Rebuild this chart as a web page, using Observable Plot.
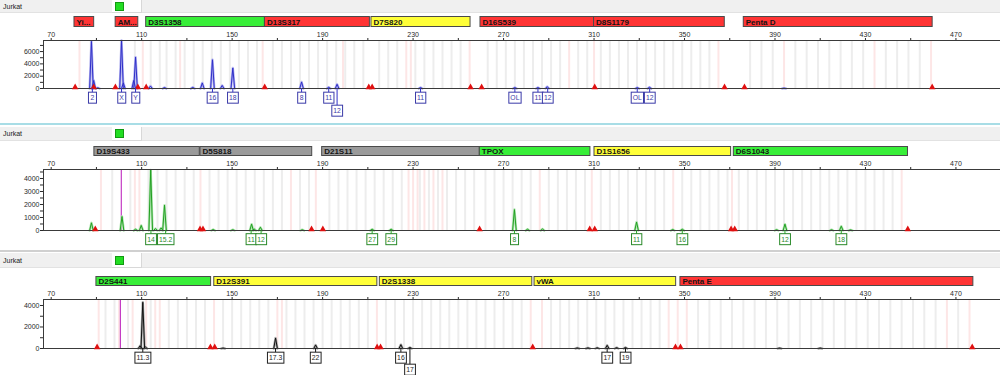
<!DOCTYPE html>
<html><head><meta charset="utf-8">
<script src="https://cdn.jsdelivr.net/npm/d3@7"></script>
<script src="https://cdn.jsdelivr.net/npm/@observablehq/plot@0.6"></script>
<style>
body{margin:0;background:#fff;font-family:"Liberation Sans",Arial,sans-serif;}
#root{position:relative;width:1000px;height:375px;overflow:hidden;background:#fff;}
.hdr{position:absolute;left:0;width:1000px;background:#f0f0f0;border-bottom:1px solid #e2e2e2;box-sizing:border-box;}
.hdr .name{position:absolute;left:3px;font-size:7px;color:#222;line-height:9px;}
.hdr .box{position:absolute;left:112px;width:29px;background:#fff;border-right:1px solid #d8d8d8;border-bottom:1px solid #d8d8d8;}
.hdr .icon{position:absolute;left:3px;width:7px;height:7px;background:#22dd22;border:1px solid #129912;}
.sep{position:absolute;left:0;width:1000px;}
</style></head><body><div id="root"></div><script>
// ---------- shared ----------
const sampleName = "Jurkat";
const xDomain = [66.6, 489.7];
const xTickValues = [70,90,110,130,150,170,190,210,230,250,270,290,310,330,350,370,390,410,430,450,470,490];
const xTickLabels = [70,110,150,190,230,270,310,350,390,430,470];
const dyeNames = ["red","green","yellow","gray"];
const dyeColors = ["#ff3434","#38ee38","#ffff38","#9a9a9a"];

// ---------- panel 1 (blue) ----------
const p1LocusNames = ["Yi...","AM...","D3S1358","D13S317","D7S820","D16S539","D8S1179","Penta D"];
const p1LocusStart = [80.3, 98.5, 112.0, 164.5, 211.6, 259.8, 310.0, 376.2];
const p1LocusEnd   = [89.0, 108.5, 164.5, 210.9, 255.4, 310.0, 367.8, 459.7];
const p1LocusDye   = ["red","red","green","red","yellow","red","red","red"];
const p1PeakBp  = [87.8, 88.8, 90.6, 101.1, 101.9, 106.5, 107.3, 113.9, 120.1, 132.6, 136.8, 141.3, 145.6, 150.3, 180.7, 192.7, 196.4, 233.3, 275.0, 285.2, 289.3, 329.1, 334.5, 394.0];
const p1PeakRfu = [7650, 1300, 120, 7800, 900, 1300, 5100, 400, 150, 180, 900, 4670, 500, 3320, 1060, 200, 690, 150, 150, 150, 300, 150, 200, 60];
const p1AlleleText = ["2","X","Y","16","18","8","11","12","11","OL","11","12","OL","12"];
const p1AlleleBp   = [88.2, 101.1, 107.3, 141.3, 150.3, 180.7, 192.7, 196.4, 233.3, 275.0, 285.2, 289.5, 329.1, 334.6];
const p1AlleleRow  = [1,1,1,1,1,1,1,2,1,1,1,1,1,1];
const p1MarkerBp = [80.6, 88.8, 98.4, 108.3, 112.0, 164.4, 210.4, 211.9, 255.4, 260.3, 310.3, 367.7, 376.5, 459.5];
const p1BinGray = [87.5, 100.8, 107.0, 114, 118, 121, 125, 129, 133, 137, 141, 145, 149, 153, 157, 161, 168, 172, 176, 180, 184, 188, 192, 196, 200, 204, 208, 215, 219, 223, 231, 235, 239, 243, 247, 251, 263, 267, 271, 275, 279, 283, 287, 291, 295, 303, 307, 313, 317, 321, 325, 329, 333, 337, 341, 345, 349, 353, 357, 361, 379, 384, 389, 399, 404, 409, 414, 419, 424, 429, 439, 444, 449, 454];
const p1BinPink = [82.5, 110.5, 127, 163.5, 199, 227, 229, 255, 299, 310, 365, 394, 434, 459];
const p1Spike = [];
const p1YTicks = [0,1000,2000,3000,4000,5000,6000,7000];
const p1YLabels = [0,2000,4000,6000];

// ---------- panel 2 (green) ----------
const p2LocusNames = ["D19S433","D5S818","D21S11","TPOX","D1S1656","D6S1043"];
const p2LocusStart = [89.1, 136.0, 189.8, 259.5, 310.2, 371.8];
const p2LocusEnd   = [135.7, 185.4, 259.5, 308.4, 370.6, 448.8];
const p2LocusDye   = ["gray","gray","gray","green","yellow","green"];
const p2PeakBp  = [87.8, 101.3, 107.3, 109.8, 114.0, 116.1, 118.6, 120.1, 141.6, 150.3, 158.6, 159.7, 162.5, 181.0, 211.9, 220.3, 274.8, 280.6, 287.2, 328.8, 344.8, 349.0, 390.7, 394.4, 415.0, 419.3, 423.4];
const p2PeakRfu = [590, 1080, 100, 390, 4650, 150, 200, 1950, 80, 60, 490, 120, 250, 60, 100, 100, 1610, 100, 120, 650, 80, 100, 60, 490, 60, 330, 50];
const p2AlleleText = ["14","15.2","11","12","27","29","8","11","16","12","18"];
const p2AlleleBp   = [114.1, 120.6, 158.4, 162.8, 211.9, 220.3, 274.8, 328.8, 349.0, 394.4, 419.3];
const p2AlleleRow  = [1,1,1,1,1,1,1,1,1,1,1];
const p2MarkerBp = [89.5, 135.8, 137.1, 185.1, 190.1, 259.4, 308.1, 310.3, 370.6, 372.2, 448.7];
const p2BinGray = [97, 105, 113, 117, 121, 125, 129, 133, 140, 144, 148, 152, 156, 160, 164, 168, 172, 180, 184, 193, 197, 201, 205, 209, 213, 217, 221, 225, 233, 237, 241, 245, 249, 253, 257, 262, 266, 270, 274, 278, 282, 290, 294, 298, 302, 306, 313, 317, 321, 325, 329, 333, 337, 341, 349, 353, 357, 361, 365, 369, 374, 378, 382, 386, 390, 394, 398, 402, 406, 410, 414, 418, 422, 426, 430, 434, 438, 442];
const p2BinPink = [92, 107, 109, 136, 176, 187, 228, 230, 232, 235, 239, 243, 286, 309, 345, 371, 446];
const p2Spike = [101.0];
const p2YTicks = [0,500,1000,1500,2000,2500,3000,3500,4000,4500];
const p2YLabels = [0,1000,2000,3000,4000];

// ---------- panel 3 (black) ----------
const p3LocusNames = ["D2S441","D12S391","D2S1338","vWA","Penta E"];
const p3LocusStart = [90.0, 142.1, 215.3, 283.7, 348.2];
const p3LocusEnd   = [140.7, 214.2, 282.7, 346.3, 477.7];
const p3LocusDye   = ["green","yellow","yellow","yellow","red"];
const p3PeakBp  = [109.3, 110.5, 111.6, 146.0, 169.2, 186.9, 224.6, 228.6, 302.6, 307.3, 311.4, 315.8, 320.0, 323.9, 392.0, 410.0];
const p3PeakRfu = [250, 4300, 150, 40, 970, 330, 360, 100, 50, 60, 70, 300, 80, 100, 40, 40];
const p3AlleleText = ["11.3","17.3","22","16","17","17","19"];
const p3AlleleBp   = [110.5, 169.2, 186.9, 224.6, 228.6, 315.8, 323.9];
const p3AlleleRow  = [1,1,1,1,2,1,1];
const p3MarkerBp = [90.3, 140.4, 142.3, 214.1, 215.6, 282.9, 346.0, 348.2, 477.2];
const p3BinGray = [94, 98, 104, 114, 122, 126, 130, 134, 138, 146, 150, 154, 158, 162, 166, 174, 178, 182, 186, 190, 194, 198, 202, 206, 210, 218, 222, 226, 230, 234, 238, 242, 246, 250, 254, 258, 262, 266, 270, 274, 278, 291, 295, 299, 303, 307, 311, 315, 319, 323, 327, 331, 335, 339, 356, 361, 366, 371, 376, 381, 386, 391, 396, 401, 406, 411, 416, 421, 426, 431, 436, 441, 446, 451, 456, 461, 471];
const p3BinPink = [91, 100, 106, 112, 116, 118, 142, 170, 172, 214, 282, 287, 343, 347, 351, 466, 476];
const p3Spike = [100.6];
const p3YTicks = [0,1000,2000,3000,4000];
const p3YLabels = [0,2000,4000];

// ---------- rendering ----------
const root = document.getElementById("root");
const FONT = '"Liberation Sans", Arial, sans-serif';
const peakHalfWidth = 0.8;
const dyeFill = d => dyeColors[dyeNames.indexOf(d.dye)];

function place(el, top) {
  el.style.position = "absolute";
  el.style.left = "0px";
  el.style.top = top + "px";
  root.appendChild(el);
}
function sep(top, h, color) {
  const d = document.createElement("div");
  d.className = "sep"; d.style.top = top + "px"; d.style.height = h + "px"; d.style.background = color;
  root.appendChild(d);
}
function header(top, h) {
  const hd = document.createElement("div");
  hd.className = "hdr"; hd.style.top = top + "px"; hd.style.height = h + "px";
  const name = document.createElement("span");
  name.className = "name"; name.style.top = Math.round((h - 10) / 2) + "px"; name.textContent = sampleName;
  const box = document.createElement("div");
  box.className = "box"; box.style.top = "0px"; box.style.height = (h - 1) + "px";
  const icon = document.createElement("div");
  icon.className = "icon"; icon.style.top = Math.round((h - 10) / 2) + "px";
  box.appendChild(icon); hd.appendChild(name); hd.appendChild(box);
  root.appendChild(hd);
}

function buildPanel(p) {
  header(p.headerTop, p.headerH);

  const loci = p.locusNames.map((name, i) => ({name, start: p.locusStart[i], end: p.locusEnd[i], dye: p.locusDye[i]}));
  const bar = Plot.plot({
    width: 1000, height: p.barH, marginLeft: 43, marginRight: 0, marginTop: 0, marginBottom: 0,
    style: {fontFamily: FONT, background: "transparent", overflow: "visible"},
    x: {domain: xDomain, axis: null},
    marks: [
      Plot.barX(loci, {x1: "start", x2: "end", fill: dyeFill, stroke: "#4a4a4a", strokeWidth: 1, insetTop: 0.5, insetBottom: 0.5}),
      Plot.text(loci, {x: "start", text: "name", textAnchor: "start", dx: 2, fontWeight: "bold", fontSize: 8, fill: "#151515"})
    ]
  });
  place(bar, p.barTop);

  const trace = [];
  p.peakBp.forEach((bp, i) => {
    const h = p.peakRfu[i];
    trace.push({peak: i, bp: bp - peakHalfWidth, rfu: 0}, {peak: i, bp, rfu: h}, {peak: i, bp: bp + peakHalfWidth, rfu: 0});
  });
  const alleles = p.alleleText.map((text, i) => ({text, bp: p.alleleBp[i], row: p.alleleRow[i]}));
  const row1 = alleles.filter(d => d.row === 1);
  const row2 = alleles.filter(d => d.row === 2);
  const bins = p.binGray.map(bp => ({bp}));
  const pinks = p.binPink.map(bp => ({bp}));

  const marks = [
    Plot.ruleX(bins, {x: "bp", stroke: "#ededed", strokeWidth: 2}),
    Plot.ruleX(pinks, {x: "bp", stroke: "#fde6e6", strokeWidth: 2}),
    Plot.ruleX(p.spike, {stroke: "#c43cc4", strokeWidth: 1.2}),
    Plot.line(trace, {x: "bp", y: "rfu", z: "peak", stroke: p.halo, strokeWidth: 2.4}),
    Plot.line(trace, {x: "bp", y: "rfu", z: "peak", stroke: p.ink, strokeWidth: 1}),
    Plot.ruleY([0], {stroke: "#3a3a3a", strokeWidth: 1}),
    Plot.ruleY([p.yMax], {stroke: "#3a3a3a", strokeWidth: 1}),
    Plot.ruleX([xDomain[0]], {stroke: "#3a3a3a", strokeWidth: 1}),
    Plot.dot(p.markerBp, {x: d => d, y: 0, symbol: "triangle", fill: "#e01010", stroke: "none", r: 2.4, dy: -1.2}),
    Plot.ruleX(row1, {x: "bp", y1: 0, y2: 0, insetBottom: -(p.row1dy - 5), stroke: p.ink, strokeWidth: 1}),
    Plot.ruleX(row2, {x: "bp", y1: 0, y2: 0, insetBottom: -(p.row2dy - 5), stroke: p.ink, strokeWidth: 1}),
    Plot.text(row1, {x: "bp", y: 0, text: "text", dy: p.row1dy, fill: p.label, fontSize: 6.8}),
    Plot.text(row2, {x: "bp", y: 0, text: "text", dy: p.row2dy, fill: p.label, fontSize: 6.8})
  ];

  const svg = Plot.plot({
    width: 1000, height: p.mainH, marginLeft: 43, marginRight: 0, marginTop: 12, marginBottom: p.mainMB,
    style: {fontFamily: FONT, fontSize: "7px", color: "#2a2a2a", background: "transparent", overflow: "visible"},
    x: {domain: xDomain, axis: "top", ticks: xTickValues, tickFormat: d => xTickLabels.includes(d) ? String(d) : "", tickSize: 3, tickPadding: 1, label: null},
    y: {domain: [0, p.yMax], ticks: p.yTicks, tickFormat: d => p.yLabels.includes(d) ? String(d) : "", tickSize: 3, tickPadding: 1, label: null},
    marks
  });
  place(svg, p.mainTop);

  // boxes around allele labels
  svg.querySelectorAll('g[aria-label="text"] text').forEach(t => {
    const bb = t.getBBox();
    const w = Math.max(bb.width + 3, 8);
    const r = document.createElementNS("http://www.w3.org/2000/svg", "rect");
    r.setAttribute("x", bb.x + bb.width / 2 - w / 2);
    r.setAttribute("y", bb.y + bb.height / 2 - 5.5);
    r.setAttribute("width", w);
    r.setAttribute("height", 11);
    r.setAttribute("fill", "#fff");
    r.setAttribute("stroke", p.label);
    r.setAttribute("stroke-width", 1);
    const tr = t.getAttribute("transform");
    if (tr) r.setAttribute("transform", tr);
    t.parentNode.insertBefore(r, t);
  });
}

buildPanel({
  headerTop: 0, headerH: 13, barTop: 16, barH: 11, mainTop: 28, mainH: 89, mainMB: 29,
  row1dy: 9.5, row2dy: 22.5, yMax: 7800, yTicks: p1YTicks, yLabels: p1YLabels,
  ink: "#2f2fc8", halo: "#b0b0f0", label: "#3a3aa8",
  locusNames: p1LocusNames, locusStart: p1LocusStart, locusEnd: p1LocusEnd, locusDye: p1LocusDye,
  peakBp: p1PeakBp, peakRfu: p1PeakRfu, alleleText: p1AlleleText, alleleBp: p1AlleleBp, alleleRow: p1AlleleRow,
  markerBp: p1MarkerBp, binGray: p1BinGray, binPink: p1BinPink, spike: p1Spike
});
sep(123, 2, "#a8dde6");
buildPanel({
  headerTop: 127, headerH: 14, barTop: 146, barH: 10, mainTop: 157, mainH: 90, mainMB: 17,
  row1dy: 9, row2dy: 21, yMax: 4692, yTicks: p2YTicks, yLabels: p2YLabels,
  ink: "#22a022", halo: "#b0e4b0", label: "#2a8a2a",
  locusNames: p2LocusNames, locusStart: p2LocusStart, locusEnd: p2LocusEnd, locusDye: p2LocusDye,
  peakBp: p2PeakBp, peakRfu: p2PeakRfu, alleleText: p2AlleleText, alleleBp: p2AlleleBp, alleleRow: p2AlleleRow,
  markerBp: p2MarkerBp, binGray: p2BinGray, binPink: p2BinPink, spike: p2Spike
});
sep(250, 2, "#d0d0d0");
buildPanel({
  headerTop: 253, headerH: 15, barTop: 276, barH: 10, mainTop: 287, mainH: 88, mainMB: 27,
  row1dy: 9.5, row2dy: 21.5, yMax: 4558, yTicks: p3YTicks, yLabels: p3YLabels,
  ink: "#111111", halo: "#a8a8a8", label: "#222222",
  locusNames: p3LocusNames, locusStart: p3LocusStart, locusEnd: p3LocusEnd, locusDye: p3LocusDye,
  peakBp: p3PeakBp, peakRfu: p3PeakRfu, alleleText: p3AlleleText, alleleBp: p3AlleleBp, alleleRow: p3AlleleRow,
  markerBp: p3MarkerBp, binGray: p3BinGray, binPink: p3BinPink, spike: p3Spike
});
</script></body></html>
